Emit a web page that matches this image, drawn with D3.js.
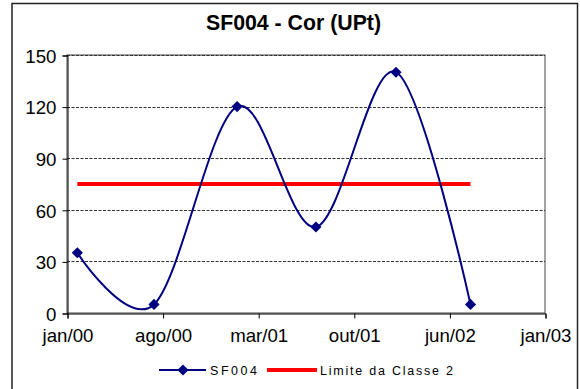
<!DOCTYPE html>
<html><head><meta charset="utf-8">
<script src="https://cdn.jsdelivr.net/npm/d3@7"></script>
<style>
html,body{margin:0;padding:0;background:#fff;}
svg{display:block;font-family:Arial,"Liberation Sans",sans-serif;}
</style></head>
<body>
<svg id="chart" width="580" height="389"></svg>
<script>
// ---- data ----
const title = "SF004 - Cor (UPt)";
const sampleDates = ["2000-01-25","2000-07-21","2001-01-30","2001-08-01","2002-02-03","2002-07-26"];
const sf004Values = [35, 5, 120, 50, 140, 5];
const limitValue = 75;
const yTicks = [0, 30, 60, 90, 120, 150];
const xTickLabels = ["jan/00","ago/00","mar/01","out/01","jun/02","jan/03"];
const xTickStepDays = 222;
const seriesNames = ["SF004", "Limite da Classe 2"];

// ---- layout ----
const svg = d3.select("#chart");
const parse = d3.timeParse("%Y-%m-%d");
const start = parse("2000-01-01");
const xTickDates = xTickLabels.map((_, i) => d3.timeDay.offset(start, i * xTickStepDays));
const plot = {left: 67, right: 545, top: 55, bottom: 313};

const x = d3.scaleTime().domain([xTickDates[0], xTickDates[xTickDates.length - 1]]).range([plot.left, plot.right]);
const y = d3.scaleLinear().domain([0, 150]).range([plot.bottom, plot.top]);

// outer border
svg.append("rect").attr("x", 12).attr("y", 3.5).attr("width", 565.5).attr("height", 420)
  .attr("fill", "#fff").attr("stroke", "#222").attr("stroke-width", 1.5);

// title
svg.append("text").attr("x", 293.5).attr("y", 30).attr("text-anchor", "middle")
  .attr("font-size", "21.3px").attr("font-weight", "bold").attr("fill", "#000").text(title);

// plot border
svg.append("rect").attr("x", plot.left).attr("y", plot.top)
  .attr("width", plot.right - plot.left).attr("height", plot.bottom - plot.top)
  .attr("fill", "none").attr("stroke", "#444").attr("stroke-width", 1);

// gridlines
svg.append("g").selectAll("line").data(yTicks.filter(v => v > 0)).join("line")
  .attr("x1", plot.left).attr("x2", plot.right)
  .attr("y1", d => Math.round(y(d)) + 0.5).attr("y2", d => Math.round(y(d)) + 0.5)
  .attr("stroke", "#333").attr("stroke-width", 1).attr("stroke-dasharray", "3,1.5");

// y axis
const yAxis = d3.axisLeft(y).tickValues(yTicks).tickSize(5).tickPadding(6).tickFormat(d3.format("d"));
const gy = svg.append("g").attr("transform", `translate(${plot.left + 0.5},0.5)`).call(yAxis);
gy.select(".domain").attr("stroke", "#000");
gy.selectAll(".tick line").attr("stroke", "#000");
gy.selectAll(".tick text").attr("font-size", "18.67px").attr("font-family", "Arial, 'Liberation Sans', sans-serif")
  .attr("fill", "#000").attr("dy", "0.36em");

// x axis
const xAxis = d3.axisBottom(x).tickValues(xTickDates).tickSize(5).tickPadding(10)
  .tickFormat((d, i) => xTickLabels[i]);
const gx = svg.append("g").attr("transform", `translate(0.5,${plot.bottom + 0.5})`).call(xAxis);
gx.select(".domain").attr("stroke", "#000");
gx.selectAll(".tick line").attr("stroke", "#000");
gx.selectAll(".tick text").attr("font-size", "18.67px").attr("font-family", "Arial, 'Liberation Sans', sans-serif")
  .attr("fill", "#000");

const pts = sampleDates.map((d, i) => ({date: parse(d), value: sf004Values[i]}));

// limit line
svg.append("line")
  .attr("x1", x(pts[0].date)).attr("x2", x(pts[pts.length - 1].date))
  .attr("y1", y(limitValue)).attr("y2", y(limitValue))
  .attr("stroke", "#ff0000").attr("stroke-width", 4);

// series line
const line = d3.line().x(d => x(d.date)).y(d => y(d.value)).curve(d3.curveCardinal.tension(0));
svg.append("path").datum(pts).attr("d", line)
  .attr("fill", "none").attr("stroke", "#000080").attr("stroke-width", 2);

const marker = d3.symbol(d3.symbolSquare, 62);
svg.append("g").selectAll("path").data(pts).join("path")
  .attr("d", marker)
  .attr("transform", d => `translate(${x(d.date)},${y(d.value)}) rotate(45)`)
  .attr("fill", "#000080");

// legend
const lg = svg.append("g");
const ly = 370;
lg.append("line").attr("x1", 159).attr("x2", 206).attr("y1", ly).attr("y2", ly)
  .attr("stroke", "#000080").attr("stroke-width", 2);
lg.append("path").attr("d", marker).attr("transform", `translate(183,${ly}) rotate(45)`).attr("fill", "#000080");
lg.append("text").attr("x", 210).attr("y", ly + 4.5).attr("font-size", "12.5px")
  .attr("textLength", 47).attr("lengthAdjust", "spacing").attr("fill", "#000").text(seriesNames[0]);
lg.append("line").attr("x1", 267).attr("x2", 317).attr("y1", ly).attr("y2", ly)
  .attr("stroke", "#ff0000").attr("stroke-width", 4);
lg.append("text").attr("x", 320).attr("y", ly + 4.5).attr("font-size", "12.5px")
  .attr("textLength", 133).attr("lengthAdjust", "spacing").attr("fill", "#000").text(seriesNames[1]);
</script>
</body></html>
